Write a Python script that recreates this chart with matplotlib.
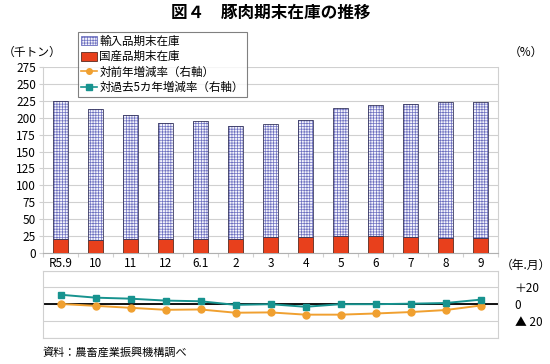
import matplotlib
matplotlib.use("Agg")
import matplotlib.pyplot as plt
from matplotlib.patches import Patch
from matplotlib.lines import Line2D

plt.rcParams['font.family'] = ['Noto Sans CJK JP', 'DejaVu Sans']
plt.rcParams['hatch.linewidth'] = 0.5

# データ（千トン、%）
months = ['R5.9', '10', '11', '12', '6.1', '2', '3', '4', '5', '6', '7', '8', '9']
kokusan = [21, 19.5, 20, 21, 20.5, 21, 23, 23, 24.5, 25.5, 23.5, 22.5, 21.5]
yunyu = [204, 193, 184.5, 170.5, 174, 167, 167, 174, 190.5, 193, 196.5, 200.5, 202]
zennen = [0.3, -2, -4.3, -6.7, -6.3, -10.2, -9.8, -12.5, -12.5, -11.1, -9.4, -7, -1.6]
kako5 = [11.3, 7.8, 6.6, 4.3, 3.5, -0.8, 0, -3.1, 0, 0, 0.6, 1.4, 5.4]

c_yunyu = '#6d70c0'
c_kokusan = '#e8401c'
c_zennen = '#f0a030'
c_kako5 = '#17938f'
c_grid = '#d0d0d0'
h_yunyu = '++++++'

fig = plt.figure(figsize=(5.5, 3.64), dpi=100)
ax = fig.add_axes([0.0782, 0.305, 0.8273, 0.511])
ax2 = fig.add_axes([0.0782, 0.0723, 0.8273, 0.184])

x = list(range(len(months)))
w = 0.43

# 上段：棒グラフ
ax.bar(x, kokusan, w, color=c_kokusan, edgecolor='#5a2a20', linewidth=0.6, zorder=3)
ax.bar(x, yunyu, w, bottom=kokusan, color='#f4f4fc', edgecolor=c_yunyu,
       hatch=h_yunyu, linewidth=0, zorder=3)
ax.bar(x, yunyu, w, bottom=kokusan, fill=False, edgecolor='#3a3a60', linewidth=0.6, zorder=4)

ax.set_xlim(-0.5, len(months) - 0.5)
ax.set_ylim(0, 275)
ax.set_yticks(range(0, 276, 25))
ax.tick_params(axis='y', labelsize=8.5, length=3, color=c_grid, pad=2)
ax.yaxis.grid(True, color=c_grid, linewidth=0.8)
ax.set_axisbelow(True)
ax.set_xticks([i - 0.5 for i in range(len(months) + 1)])
ax.set_xticklabels([])
ax.set_xticks(x, minor=True)
ax.set_xticklabels(months, minor=True)
ax.tick_params(axis='x', which='major', length=3, color=c_grid, direction='out')
ax.tick_params(axis='x', which='minor', length=0, labelsize=8.5, pad=3)
ax.spines['top'].set_visible(False)
for s in ['left', 'right']:
    ax.spines[s].set_color(c_grid)
ax.spines['bottom'].set_color('#b0b0b0')

# 下段：増減率
ax2.axhline(0, color='black', linewidth=1.3, zorder=2)
ax2.plot(x, zennen, color=c_zennen, marker='o', markersize=5, linewidth=1.4, zorder=3)
ax2.plot(x, kako5, color=c_kako5, marker='s', markersize=5, linewidth=1.4, zorder=4)
ax2.set_xlim(-0.5, len(months) - 0.5)
ax2.set_ylim(-40, 40)
ax2.set_xticks([])
ax2.set_yticks([-40, -20, 0, 20, 40])
ax2.yaxis.grid(True, color=c_grid, linewidth=0.8)
ax2.yaxis.tick_right()
ax2.set_yticklabels(['', '▲ 20', '0', '＋20', ''])
ax2.tick_params(axis='y', length=0, labelsize=8.5, pad=12)
for s in ['left', 'right', 'bottom', 'top']:
    ax2.spines[s].set_color(c_grid)

# 凡例
handles = [
    Patch(facecolor='#f4f4fc', edgecolor=c_yunyu, hatch=h_yunyu, linewidth=0.6),
    Patch(facecolor=c_kokusan, edgecolor='#5a2a20', linewidth=0.6),
    Line2D([], [], color=c_zennen, marker='o', markersize=4, linewidth=1.2),
    Line2D([], [], color=c_kako5, marker='s', markersize=4, linewidth=1.2),
]
labels = ['輸入品期末在庫', '国産品期末在庫', '対前年増減率（右軸）', '対過去5カ年増減率（右軸）']
leg = fig.legend(handles, labels, loc='upper left', bbox_to_anchor=(0.142, 0.912),
                 fontsize=8.3, frameon=True, fancybox=False, handlelength=1.4,
                 handleheight=0.8, handletextpad=0.2, labelspacing=0.2,
                 borderpad=0.25, borderaxespad=0)
leg.get_frame().set_edgecolor('#606060')
leg.get_frame().set_linewidth(0.8)

# 文字
fig.text(0.493, 0.965, '図４　豚肉期末在庫の推移', ha='center', va='center',
         fontsize=12, fontweight='bold')
fig.text(0.005, 0.855, '（千トン）', ha='left', va='center', fontsize=8.5)
fig.text(0.925, 0.855, '（%）', ha='left', va='center', fontsize=8.5)
fig.text(0.91, 0.272, '（年.月）', ha='left', va='center', fontsize=8.5)
fig.text(0.078, 0.032, '資料：農畜産業振興機構調べ', ha='left', va='center', fontsize=8)

fig.savefig('out.png', dpi=100)
